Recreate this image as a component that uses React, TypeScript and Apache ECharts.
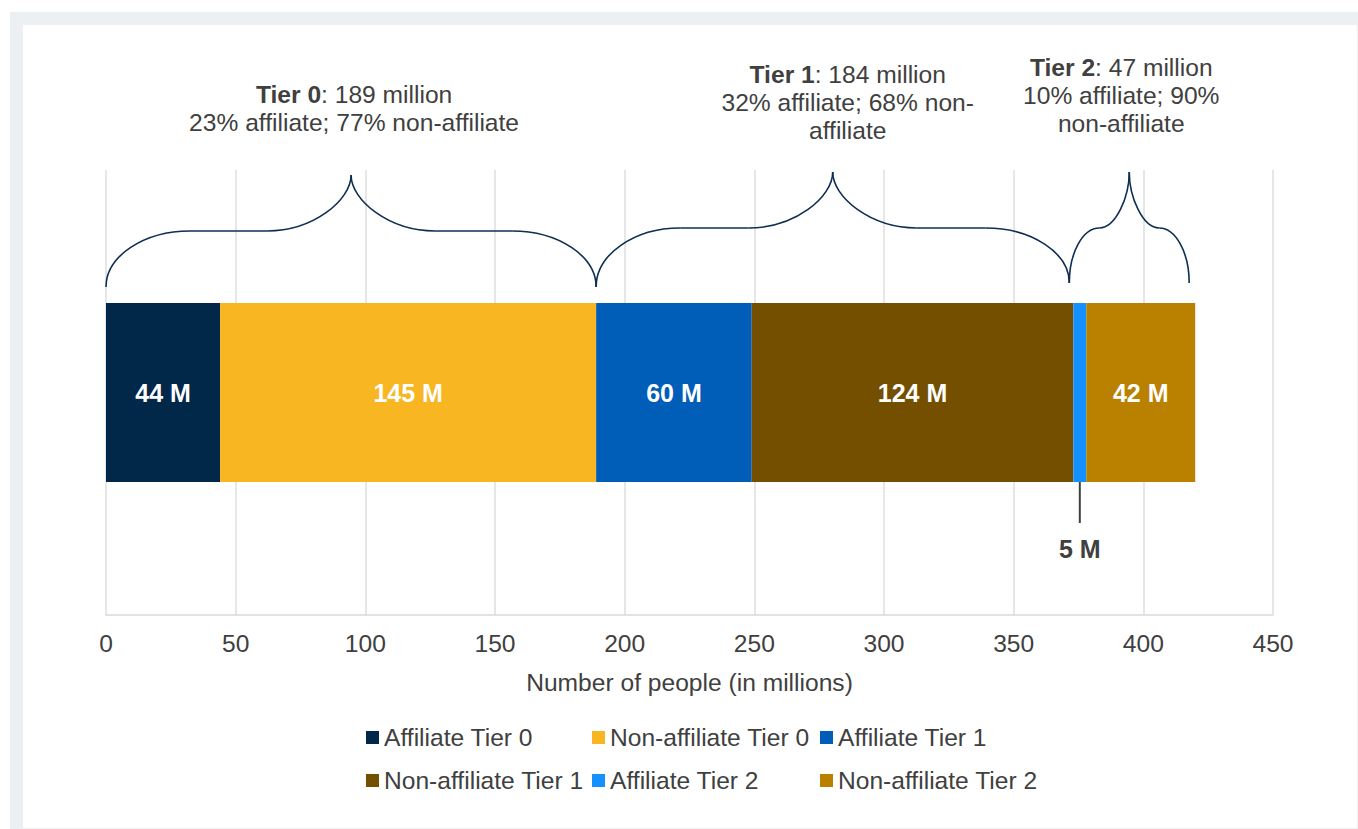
import React, { useEffect, useRef } from "react";
import * as echarts from "echarts";

const seriesNames = [
  "Affiliate Tier 0",
  "Non-affiliate Tier 0",
  "Affiliate Tier 1",
  "Non-affiliate Tier 1",
  "Affiliate Tier 2",
  "Non-affiliate Tier 2",
];
const seriesValues = [44, 145, 60, 124, 5, 42];
const seriesColors = ["#012749", "#F9B623", "#005EB8", "#754F00", "#1590FF", "#BA8000"];

const tierNames = ["Tier 0", "Tier 1", "Tier 2"];
const tierTotals = ["189 million", "184 million", "47 million"];
const tierDetails = [
  "23% affiliate; 77% non-affiliate",
  "32% affiliate; 68% non-\naffiliate",
  "10% affiliate; 90%\nnon-affiliate",
];
// tier spans in data units (cumulative boundaries)
const tierBounds = [
  [0, 189],
  [189, 373],
  [373, 420],
];

const xTicks = { min: 0, max: 450, interval: 50 };
const axisTitle = "Number of people (in millions)";

const FONT = '"Liberation Sans", Arial, sans-serif';
const TEXT = "#404040";
const NAVY = "#0E2E52";
const FS = 24.6;

export default function App() {
  const ref = useRef<HTMLDivElement>(null);

  useEffect(() => {
    if (!ref.current) return;
    const chart = echarts.init(ref.current, null, { renderer: "svg" });

    const legendPos = [
      [366, 725],
      [592, 725],
      [820, 725],
      [366, 768],
      [592, 768],
      [820, 768],
    ];

    const option: any = {
      animation: false,
      backgroundColor: "transparent",
      textStyle: { fontFamily: FONT },
      grid: { left: 106, right: 85, top: 170, bottom: 214 },
      xAxis: {
        type: "value",
        min: xTicks.min,
        max: xTicks.max,
        interval: xTicks.interval,
        name: axisTitle,
        nameLocation: "middle",
        nameGap: 55,
        nameTextStyle: { color: TEXT, fontSize: FS, fontFamily: FONT },
        axisLine: { show: true, lineStyle: { color: "#d9d9d9", width: 1.5 } },
        axisTick: { show: false },
        axisLabel: { color: TEXT, fontSize: FS, margin: 16, fontFamily: FONT },
        splitLine: { show: true, lineStyle: { color: "#dedede", width: 1.5 } },
      },
      yAxis: {
        type: "category",
        data: ["People"],
        show: false,
      },
      legend: seriesNames.map((n, i) => ({
        data: [n],
        left: legendPos[i][0],
        top: legendPos[i][1],
        padding: 0,
        itemWidth: 13,
        itemHeight: 13,
        icon: "rect",
        selectedMode: false,
        textStyle: { color: TEXT, fontSize: FS, fontFamily: FONT },
      })),
      series: seriesNames.map((n, i) => ({
        name: n,
        type: "bar",
        stack: "total",
        barWidth: 179,
        data: [seriesValues[i]],
        itemStyle: { color: seriesColors[i] },
        label:
          i === 4
            ? {
                show: true,
                position: "bottom",
                distance: 54,
                formatter: "{c} M",
                color: TEXT,
                fontSize: 25,
                fontWeight: "bold",
                fontFamily: FONT,
              }
            : {
                show: true,
                position: "inside",
                formatter: "{c} M",
                color: "#ffffff",
                fontSize: 25,
                fontWeight: "bold",
                fontFamily: FONT,
              },
      })),
    };

    chart.setOption(option);

    const px = (v: number) => chart.convertToPixel({ xAxisIndex: 0 }, v) as number;

    const k = 0.55;
    const strokeStyle = { stroke: NAVY, lineWidth: 1.6, fill: "none" };
    const braceEls: any[] = [];
    const addBrace = (
      xL: number,
      xR: number,
      yBL: number,
      yBR: number,
      yMid: number,
      yTop: number,
      rMax: number
    ) => {
      const xM = (xL + xR) / 2;
      const r = Math.min(rMax, (xM - xL) / 2);
      braceEls.push({
        type: "bezierCurve",
        shape: {
          x1: xL, y1: yBL, x2: xL + r, y2: yMid,
          cpx1: xL, cpy1: yBL - k * (yBL - yMid),
          cpx2: xL + r - k * r, cpy2: yMid,
        },
        style: strokeStyle,
      });
      if (xM - r - (xL + r) > 0.5) {
        braceEls.push({
          type: "line",
          shape: { x1: xL + r, y1: yMid, x2: xM - r, y2: yMid },
          style: strokeStyle,
        });
      }
      braceEls.push({
        type: "bezierCurve",
        shape: {
          x1: xM - r, y1: yMid, x2: xM, y2: yTop,
          cpx1: xM - r + k * r, cpy1: yMid,
          cpx2: xM, cpy2: yMid - k * (yMid - yTop),
        },
        style: strokeStyle,
      });
      braceEls.push({
        type: "bezierCurve",
        shape: {
          x1: xM + r, y1: yMid, x2: xM, y2: yTop,
          cpx1: xM + r - k * r, cpy1: yMid,
          cpx2: xM, cpy2: yMid - k * (yMid - yTop),
        },
        style: strokeStyle,
      });
      if (xR - r - (xM + r) > 0.5) {
        braceEls.push({
          type: "line",
          shape: { x1: xM + r, y1: yMid, x2: xR - r, y2: yMid },
          style: strokeStyle,
        });
      }
      braceEls.push({
        type: "bezierCurve",
        shape: {
          x1: xR, y1: yBR, x2: xR - r, y2: yMid,
          cpx1: xR, cpy1: yBR - k * (yBR - yMid),
          cpx2: xR - r + k * r, cpy2: yMid,
        },
        style: strokeStyle,
      });
    };

    const braceY = [
      { bl: 287, br: 287, mid: 231, top: 175 },
      { bl: 287, br: 283, mid: 228, top: 172 },
      { bl: 283, br: 283, mid: 228, top: 172 },
    ];
    const braceAdj = [
      [0, 0],
      [0, -4],
      [-4, -6],
    ];
    tierBounds.forEach((b, i) => {
      const xL = px(b[0]) + braceAdj[i][0];
      const xR = px(b[1]) + braceAdj[i][1];
      addBrace(xL, xR, braceY[i].bl, braceY[i].br, braceY[i].mid, braceY[i].top, 84);
    });

    const textTops = [80, 60, 53];
    const textOffsets = [3, 13, -13];
    const textEls = tierBounds.map((b, i) => ({
      type: "text",
      x: (px(b[0]) + px(b[1])) / 2 + textOffsets[i],
      y: textTops[i],
      style: {
        text: `{b|${tierNames[i]}}{n|: ${tierTotals[i]}}\n{n|${tierDetails[i].split("\n").join("}\n{n|")}}`,
        align: "center",
        verticalAlign: "top",
        fill: TEXT,
        fontSize: FS,
        fontFamily: FONT,
        lineHeight: 28,
        rich: {
          b: { fontWeight: "bold", fontSize: FS, fontFamily: FONT, fill: TEXT, lineHeight: 28 },
          n: { fontSize: FS, fontFamily: FONT, fill: TEXT, lineHeight: 28 },
        },
      },
    }));

    const startSmall = seriesValues.slice(0, 4).reduce((a, c) => a + c, 0);
    const xSmall = px(startSmall + seriesValues[4] / 2);
    const leader = {
      type: "line",
      shape: { x1: xSmall, y1: 481, x2: xSmall, y2: 523 },
      style: { stroke: TEXT, lineWidth: 2 },
    };

    chart.setOption({ graphic: [...braceEls, ...textEls, leader] });

    return () => chart.dispose();
  }, []);

  return (
    <div style={{ position: "fixed", left: 0, top: 0, width: 1358, height: 829, background: "#ffffff" }}>
      <div style={{ position: "absolute", left: 10, top: 12, width: 1348, height: 817, background: "#edf0f2" }} />
      <div
        style={{
          position: "absolute",
          left: 23,
          top: 25,
          width: 1334,
          height: 803,
          background: "#ffffff",
          borderRight: "1px solid #f0f0f0",
          borderBottom: "1px solid #f0f0f0",
        }}
      />
      <div ref={ref} style={{ position: "absolute", left: 0, top: 0, width: 1358, height: 829 }} />
    </div>
  );
}
